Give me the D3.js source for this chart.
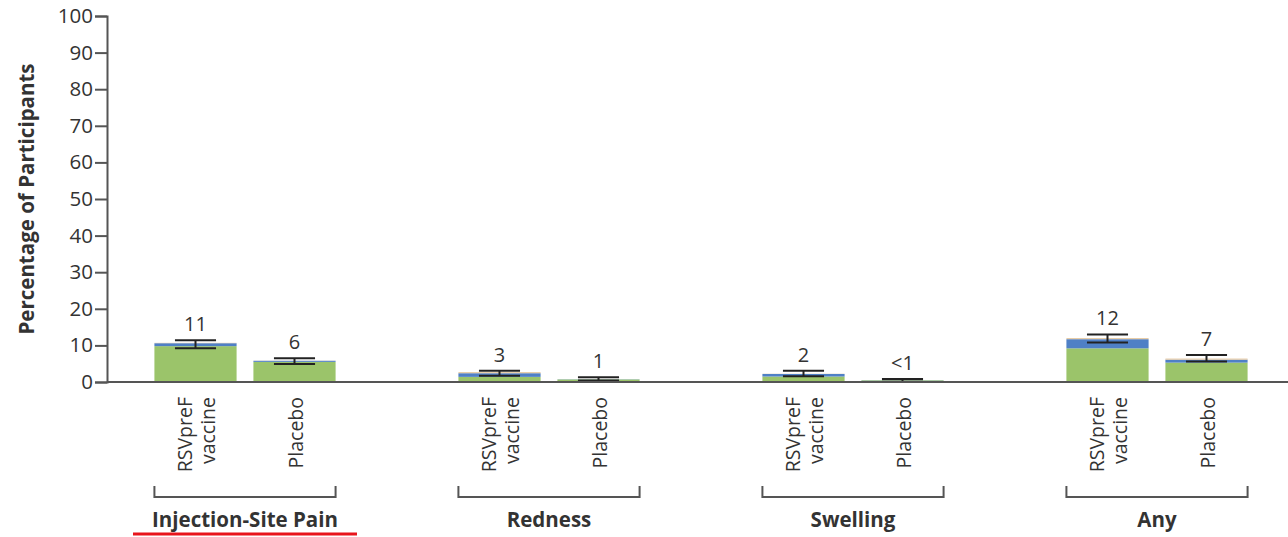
<!DOCTYPE html>
<html>
<head>
<meta charset="utf-8">
<script src="https://cdn.jsdelivr.net/npm/d3@7"></script>
<style>
  html, body { margin: 0; padding: 0; background: #fff; }
  svg { display: block; }
  text { font-family: "Open Sans", "Noto Sans", sans-serif; fill: #333; }
</style>
</head>
<body>
<svg id="chart" width="1288" height="537"></svg>
<script>
// ---- Data ----
const categories = ["Injection-Site Pain", "Redness", "Swelling", "Any"];
const arms = ["RSVpreF vaccine", "Placebo"];
// order: [cat0 vaccine, cat0 placebo, cat1 vaccine, cat1 placebo, ...]
const mild     = [9.8, 5.5, 1.4, 0.7, 1.5, 0.45, 9.2, 5.3];
const moderate = [0.8, 0.3, 1.0, 0.05, 0.7, 0.05, 2.5, 0.8];
const severe   = [0.1, 0.05, 0.3, 0.0, 0.05, 0.0, 0.3, 0.3];
const ciLow    = [9.2, 4.9, 1.7, 0.4, 1.6, 0.1, 10.8, 5.6];
const ciHigh   = [11.4, 6.5, 3.1, 1.3, 3.1, 0.8, 13.0, 7.4];
const valueLabels = ["11", "6", "3", "1", "2", "<1", "12", "7"];
const yTicks = [0, 10, 20, 30, 40, 50, 60, 70, 80, 90, 100];
const yTitle = "Percentage of Participants";
const layerColors = ["#9bc46a", "#4f80c6", "#e6c8a0"];

// ---- Build rows ----
const rows = [];
categories.forEach((c, ci) => arms.forEach((a, ai) => {
  const i = ci * arms.length + ai;
  rows.push({cat: c, arm: a, layers: [mild[i], moderate[i], severe[i]],
             lo: ciLow[i], hi: ciHigh[i], label: valueLabels[i]});
}));

const svg = d3.select("#chart");
const axisX = 107;
const y = d3.scaleLinear().domain([0, 100]).range([382, 16]);
const x0 = d3.scaleBand().domain(categories).range([93, 1309]);
const x1 = d3.scaleBand().domain(arms).range([-99, 99]);
const barW = x1.bandwidth() * 0.83;
const cx = d => x0(d.cat) + x0.bandwidth() / 2 + x1(d.arm) + x1.bandwidth() / 2;

// ---- Bars ----
const barG = svg.append("g");
rows.forEach(d => {
  let acc = 0;
  d.layers.forEach((v, li) => {
    if (v <= 0) { return; }
    barG.append("rect")
      .attr("x", cx(d) - barW / 2)
      .attr("width", barW)
      .attr("y", y(acc + v))
      .attr("height", y(acc) - y(acc + v))
      .attr("fill", layerColors[li]);
    acc += v;
  });
});

// ---- Error bars ----
const errG = svg.append("g").attr("stroke", "#222").attr("stroke-width", 2);
const capW = barW / 2;
rows.forEach(d => {
  const c = cx(d);
  errG.append("line").attr("x1", c).attr("x2", c).attr("y1", y(d.hi)).attr("y2", y(d.lo));
  errG.append("line").attr("x1", c - capW / 2).attr("x2", c + capW / 2).attr("y1", y(d.hi)).attr("y2", y(d.hi));
  errG.append("line").attr("x1", c - capW / 2).attr("x2", c + capW / 2).attr("y1", y(d.lo)).attr("y2", y(d.lo));
});

// ---- Value labels ----
svg.append("g").selectAll("text").data(rows).join("text")
  .attr("x", d => cx(d))
  .attr("y", d => y(d.hi) - 9)
  .attr("text-anchor", "middle")
  .attr("font-size", 20)
  .text(d => d.label);

// ---- Y axis ----
const yAxis = d3.axisLeft(y).tickValues(yTicks).tickSize(12).tickPadding(2);
const yg = svg.append("g").attr("transform", `translate(${axisX},0)`).call(yAxis);
yg.select(".domain").attr("stroke", "#555").attr("stroke-width", 2);
yg.selectAll(".tick line").attr("stroke", "#555").attr("stroke-width", 2);
yg.selectAll(".tick text").attr("font-size", 20.5).attr("fill", "#444")
  .attr("font-family", "'Open Sans', sans-serif");

// baseline
svg.append("line").attr("x1", axisX).attr("x2", 1288).attr("y1", y(0)).attr("y2", y(0))
  .attr("stroke", "#555").attr("stroke-width", 2);

// Y title
svg.append("text")
  .attr("transform", `translate(34,${(y(0) + y(100)) / 2}) rotate(-90)`)
  .attr("text-anchor", "middle")
  .attr("font-size", 20.5)
  .attr("font-weight", "bold")
  .text(yTitle);

// ---- Arm labels (rotated) ----
const armG = svg.append("g");
rows.forEach(d => {
  const c = cx(d);
  const words = d.arm === "Placebo" ? ["Placebo"] : ["RSVpreF", "vaccine"];
  const offsets = words.length === 2 ? [-4, 19] : [8];
  words.forEach((w, wi) => {
    armG.append("text")
      .attr("transform", `translate(${c + offsets[wi]},397) rotate(-90)`)
      .attr("text-anchor", "end")
      .attr("font-size", 19.5)
      .attr("fill", "#444")
      .text(w);
  });
});

// ---- Group brackets and labels ----
const grpG = svg.append("g");
categories.forEach(c => {
  const mid = x0(c) + x0.bandwidth() / 2;
  const left = mid + x1(arms[0]) + x1.bandwidth() / 2 - barW / 2;
  const right = mid + x1(arms[1]) + x1.bandwidth() / 2 + barW / 2;
  grpG.append("path")
    .attr("d", `M${left},486 V497 H${right} V486`)
    .attr("fill", "none").attr("stroke", "#555").attr("stroke-width", 2);
  grpG.append("text")
    .attr("x", (left + right) / 2)
    .attr("y", 527)
    .attr("text-anchor", "middle")
    .attr("font-size", 20.5)
    .attr("font-weight", "bold")
    .text(c);
});

// red underline under first group label
{
  const mid = x0(categories[0]) + x0.bandwidth() / 2;
  svg.append("line").attr("x1", mid - 112).attr("x2", mid + 112)
    .attr("y1", 534).attr("y2", 534).attr("stroke", "#e8141b").attr("stroke-width", 3);
}
</script>
</body>
</html>
